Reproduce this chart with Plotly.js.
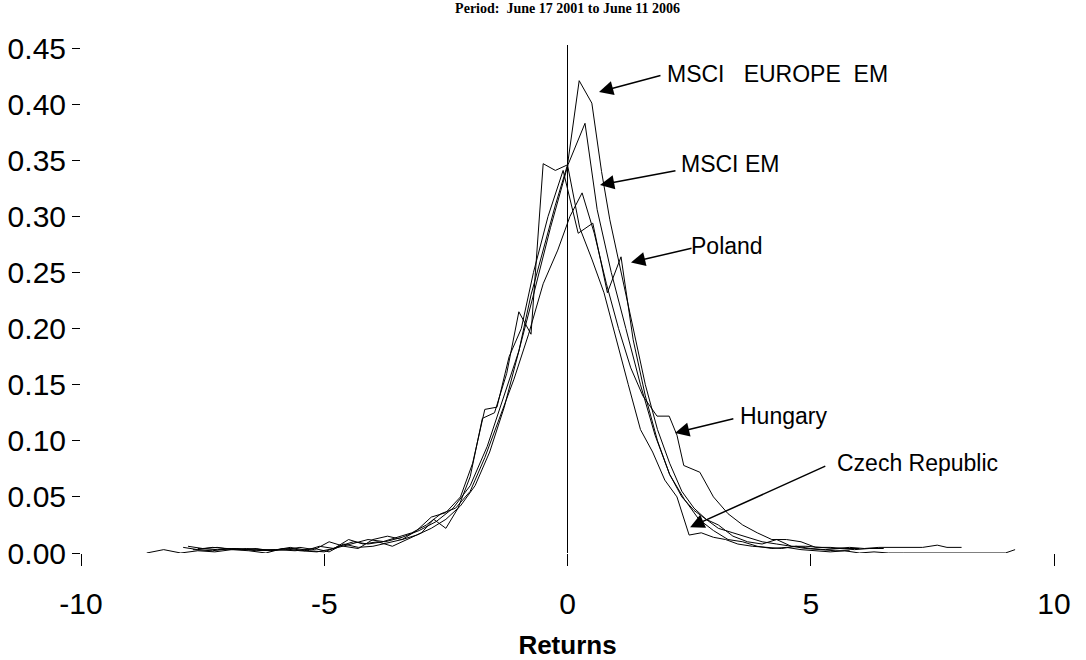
<!DOCTYPE html>
<html>
<head>
<meta charset="utf-8">
<script src="https://cdn.plot.ly/plotly-3.0.1.min.js"></script>
<style>html,body{margin:0;padding:0;background:#fff;}#chart{width:1086px;height:660px;}</style>
</head>
<body>
<div id="chart"></div>
<script>
// Returns (x) and density (y) for each index
const europeX = [-7.6,-7.2,-6.8,-6.4,-6.0,-5.6,-5.2,-4.9,-4.6,-4.3,-4.0,-3.7,-3.4,-3.1,-2.8,-2.5,-2.2,-1.9,-1.6,-1.3,-1.0,-0.75,-0.5,-0.25,0.0,0.24,0.5,0.7,0.87,1.1,1.35,1.6,1.85,2.1,2.35,2.6,2.85,3.1,3.4,3.7,4.0,4.3,4.6,4.9,5.2,5.5,5.8];
const europeY = [0.004,0.003,0.004,0.002,0.003,0.002,0.004,0.001,0.008,0.005,0.006,0.009,0.012,0.016,0.022,0.030,0.042,0.060,0.090,0.130,0.180,0.230,0.270,0.310,0.346,0.421,0.401,0.340,0.297,0.250,0.200,0.150,0.110,0.080,0.055,0.040,0.030,0.022,0.018,0.014,0.010,0.008,0.006,0.004,0.003,0.002,0.002];

const emX = [-8.65,-8.3,-7.95,-7.6,-7.25,-6.9,-6.55,-6.2,-5.85,-5.5,-5.15,-4.8,-4.45,-4.1,-3.75,-3.4,-3.05,-2.7,-2.35,-2.0,-1.65,-1.3,-1.0,-0.7,-0.35,0.01,0.36,0.61,0.9,1.2,1.5,1.8,2.1,2.4,2.7,3.0,3.3,3.6,3.9,4.2,4.5,4.8,5.1,5.4,5.7,6.0,6.3,6.6,6.9,7.2,7.5,7.8,8.1,8.4,8.7,9.0,9.2];
const emY = [0.000,0.003,0.000,0.002,0.001,0.003,0.002,0.000,0.004,0.002,0.001,0.004,0.008,0.012,0.010,0.014,0.020,0.028,0.040,0.060,0.095,0.140,0.180,0.230,0.290,0.346,0.383,0.306,0.250,0.200,0.150,0.105,0.070,0.048,0.030,0.020,0.012,0.010,0.006,0.004,0.005,0.003,0.002,0.001,0.002,0.000,0.001,0.000,0.000,0.000,0.000,0.000,0.000,0.000,0.000,0.000,0.003];

const polandX = [-7.9,-7.6,-7.3,-7.0,-6.7,-6.4,-6.1,-5.8,-5.5,-5.2,-4.9,-4.6,-4.3,-4.0,-3.7,-3.4,-3.1,-2.8,-2.5,-2.2,-1.95,-1.7,-1.45,-1.2,-0.95,-0.7,-0.4,-0.09,0.22,0.52,0.82,1.1,1.35,1.6,1.85,2.1,2.35,2.6,2.85,3.1,3.4,3.7,4.0,4.3,4.6,4.9,5.2,5.5,5.8,6.1,6.4,6.7,7.0,7.3,7.6,7.8,8.1];
const polandY = [0.005,0.003,0.005,0.004,0.003,0.004,0.002,0.003,0.005,0.003,0.010,0.006,0.004,0.012,0.015,0.012,0.020,0.032,0.036,0.050,0.080,0.128,0.130,0.175,0.200,0.250,0.300,0.341,0.285,0.294,0.232,0.264,0.190,0.140,0.100,0.070,0.050,0.038,0.030,0.025,0.015,0.010,0.008,0.012,0.006,0.006,0.005,0.004,0.005,0.004,0.005,0.005,0.005,0.005,0.007,0.005,0.005];

const hungaryX = [-7.7,-7.3,-6.9,-6.5,-6.1,-5.7,-5.3,-5.0,-4.7,-4.4,-4.1,-3.8,-3.5,-3.2,-2.9,-2.6,-2.3,-2.0,-1.7,-1.4,-1.1,-0.8,-0.5,-0.2,0.05,0.3,0.55,0.8,1.05,1.3,1.55,1.84,2.09,2.25,2.39,2.72,3.0,3.3,3.6,3.9,4.2,4.5,4.8,5.1,5.4,5.7,6.0];
const hungaryY = [0.003,0.002,0.004,0.003,0.002,0.005,0.002,0.001,0.006,0.010,0.008,0.010,0.014,0.018,0.025,0.035,0.040,0.055,0.085,0.120,0.155,0.195,0.240,0.270,0.300,0.321,0.285,0.240,0.200,0.165,0.140,0.122,0.122,0.105,0.078,0.072,0.050,0.035,0.025,0.018,0.012,0.012,0.010,0.005,0.005,0.004,0.004];

const czechX = [-7.8,-7.5,-7.2,-6.9,-6.6,-6.3,-6.0,-5.7,-5.4,-5.1,-4.8,-4.5,-4.2,-3.9,-3.6,-3.3,-3.0,-2.75,-2.5,-2.25,-2.0,-1.75,-1.5,-1.25,-1.0,-0.75,-0.5,-0.25,0.0,0.25,0.5,0.75,1.0,1.25,1.5,1.75,2.0,2.25,2.5,2.75,3.0,3.25,3.5,3.8,4.1,4.4,4.7,5.0,5.3,5.6,5.9,6.2,6.5];
const czechY = [0.006,0.004,0.005,0.003,0.004,0.003,0.003,0.004,0.002,0.006,0.004,0.012,0.008,0.010,0.006,0.012,0.018,0.030,0.022,0.040,0.068,0.120,0.125,0.160,0.215,0.195,0.347,0.341,0.346,0.290,0.262,0.232,0.190,0.150,0.110,0.090,0.065,0.050,0.016,0.018,0.014,0.012,0.008,0.006,0.005,0.004,0.006,0.004,0.003,0.004,0.003,0.004,0.004];

const yTicks = [0,0.05,0.10,0.15,0.20,0.25,0.30,0.35,0.40,0.45];
const xTicks = [-10,-5,0,5,10];

// Label annotations: text, arrow tip, arrow tail, text anchor
const labelNames = ['MSCI\u00a0\u00a0\u00a0EUROPE\u00a0\u00a0EM','MSCI EM','Poland','Hungary','Czech Republic'];
const tipX  = [0.647,0.668,1.305,2.21,2.52];
const tipY  = [0.411,0.328,0.259,0.107,0.023];
const tailX = [1.942,2.25,2.58,3.44,5.33];
const tailY = [0.426,0.341,0.272,0.120,0.078];
const textX = [2.0,2.3,2.5,3.5,5.5];
const textY = [0.427,0.347,0.274,0.122,0.080];

const series = [[europeX,europeY],[emX,emY],[polandX,polandY],[hungaryX,hungaryY],[czechX,czechY]];
const traces = series.map(s => ({
  x: s[0], y: s[1], type: 'scatter', mode: 'lines',
  line: {color: '#000', width: 1}, hoverinfo: 'skip'
}));

const annotations = [];
for (let i = 0; i < labelNames.length; i++) {
  annotations.push({
    x: tipX[i], y: tipY[i], xref: 'x', yref: 'y',
    ax: tailX[i], ay: tailY[i], axref: 'x', ayref: 'y',
    text: '', showarrow: true, arrowhead: 2, arrowsize: 1.9, arrowwidth: 1.5, arrowcolor: '#000'
  });
  annotations.push({
    x: textX[i], y: textY[i], xref: 'x', yref: 'y', xanchor: 'left', yanchor: 'middle',
    text: labelNames[i], showarrow: false,
    font: {family: 'Arial, Liberation Sans, sans-serif', size: 23, color: '#000'}
  });
}

const layout = {
  width: 1086, height: 660,
  margin: {l: 81, r: 32, t: 45, b: 107},
  paper_bgcolor: '#fff', plot_bgcolor: '#fff',
  showlegend: false,
  title: {
    text: '<b>Period:\u00a0\u00a0June 17 2001 to June 11 2006</b>',
    font: {family: 'Times New Roman, Liberation Serif, serif', size: 14, color: '#000'},
    x: 0.5, xref: 'paper', y: 0.988, yref: 'container', yanchor: 'middle'
  },
  xaxis: {
    range: [-10, 10], tickvals: xTicks, ticktext: xTicks.map(String),
    ticks: 'outside', ticklen: 12, tickwidth: 1, tickcolor: '#000',
    showline: false, showgrid: false, zeroline: true, zerolinecolor: '#000', zerolinewidth: 1,
    tickfont: {family: 'Arial, Liberation Sans, sans-serif', size: 30, color: '#000'},
    ticklabelstandoff: 12,
    title: {text: '<b>Returns</b>', standoff: 18,
      font: {family: 'Arial, Liberation Sans, sans-serif', size: 26, color: '#000'}}
  },
  yaxis: {
    range: [0, 0.4528], tickvals: yTicks, ticktext: yTicks.map(v => v.toFixed(2)),
    ticks: 'outside', ticklen: 8, tickwidth: 1, tickcolor: '#000',
    showline: false, showgrid: false, zeroline: false,
    tickfont: {family: 'Arial, Liberation Sans, sans-serif', size: 30, color: '#000'}
  },
  annotations: annotations
};

Plotly.newPlot('chart', traces, layout, {staticPlot: true, displayModeBar: false});
</script>
</body>
</html>
